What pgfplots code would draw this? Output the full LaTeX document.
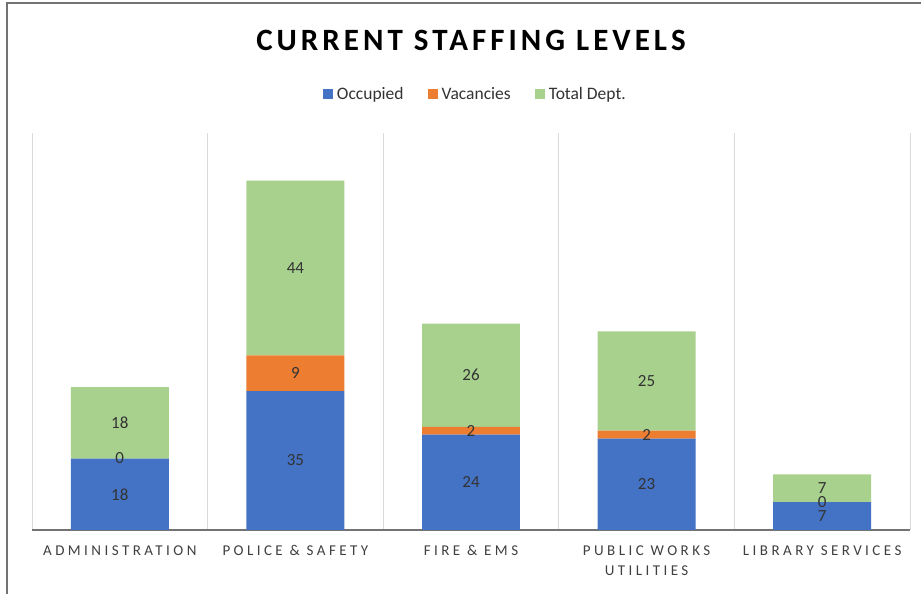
\documentclass[border=0pt]{standalone}
\usepackage{fontspec}
\setmainfont{Carlito}
\usepackage{pgfplots}
\pgfplotsset{compat=1.18}
\definecolor{cblue}{HTML}{4472C4}
\definecolor{corange}{HTML}{ED7D31}
\definecolor{cgreen}{HTML}{A9D18E}
\definecolor{ctext}{HTML}{333333}
\definecolor{ctick}{HTML}{404040}
\definecolor{cgrid}{HTML}{D9D9D9}
\pgfplotsset{
  geom/.style={
    at={(32pt,64pt)}, anchor=south west,
    scale only axis, width=878pt, height=397pt,
    xmin=-0.5, xmax=4.5, ymin=0, ymax=100,
    /pgf/number format/assume math mode=true,
    every node near coord/.append style={anchor=center, font={\fontsize{17}{20}\selectfont}, text=ctext},
  }
}
\begin{document}
\begin{tikzpicture}[x=1pt,y=1pt]
\useasboundingbox (0,0) rectangle (921,594);
\fill[white] (0,0) rectangle (921,594);
\draw[line width=1.5pt,color=black!55] (7,-10) -- (7,591) -- (940,591);
\node[font={\fontsize{31}{36}\selectfont\bfseries\addfontfeatures{LetterSpace=13}}, text=black] at (471,554) {CURRENT STAFFING LEVELS};
\begin{axis}[
  geom,
  ybar stacked, bar width=0.558,
  visualization depends on=rawy \as \rawy,
  axis x line*=bottom, hide y axis,
  axis line style={color=black!55, line width=1.2pt},
  xtick={0,1,2,3,4},
  xticklabels={ADMINISTRATION, POLICE \& SAFETY, FIRE \& EMS, {PUBLIC WORKS\\UTILITIES}, LIBRARY SERVICES},
  xticklabel style={font={\fontsize{15}{20}\selectfont\addfontfeatures{LetterSpace=23}}, text=ctick, align=center, yshift=-12pt},
  major tick length=0pt,
  minor xtick={-0.5,0.5,1.5,2.5,3.5,4.5},
  minor tick length=0pt,
  xminorgrids, minor grid style={cgrid, line width=0.8pt},
  legend style={at={(0.505,1.098)}, anchor=center, draw=none, fill=none,
    legend columns=-1, font={\fontsize{17.5}{20}\selectfont}, text=ctext,
    /tikz/every even column/.append style={column sep=22pt},
    /tikz/every odd column/.append style={column sep=0pt}},
  legend image code/.code={\fill[#1] (0pt,-5pt) rectangle (10pt,5pt); \path (12pt,0pt);},
]
\addplot[fill=cblue, draw=none, nodes near coords={\pgfmathprintnumber{\rawy}}] coordinates {(0,18) (1,35) (2,24) (3,23) (4,7)};
\addplot[fill=corange, draw=none] coordinates {(0,0) (1,9) (2,2) (3,2) (4,0)};
\addplot[fill=cgreen, draw=none, nodes near coords={\pgfmathprintnumber{\rawy}}] coordinates {(0,18) (1,44) (2,26) (3,25) (4,7)};
\legend{Occupied, Vacancies, Total Dept.}
\end{axis}
% Vacancies labels, placed at the middle of each vacancies segment (occupied + vacancies/2)
\begin{axis}[geom, hide axis]
\addplot[draw=none, mark=none, point meta=explicit,
  nodes near coords={\pgfmathprintnumber{\pgfplotspointmeta}}]
  coordinates {(0,18) [0] (1,39.5) [9] (2,25) [2] (3,24) [2] (4,7) [0]};
\end{axis}
\end{tikzpicture}
\end{document}
